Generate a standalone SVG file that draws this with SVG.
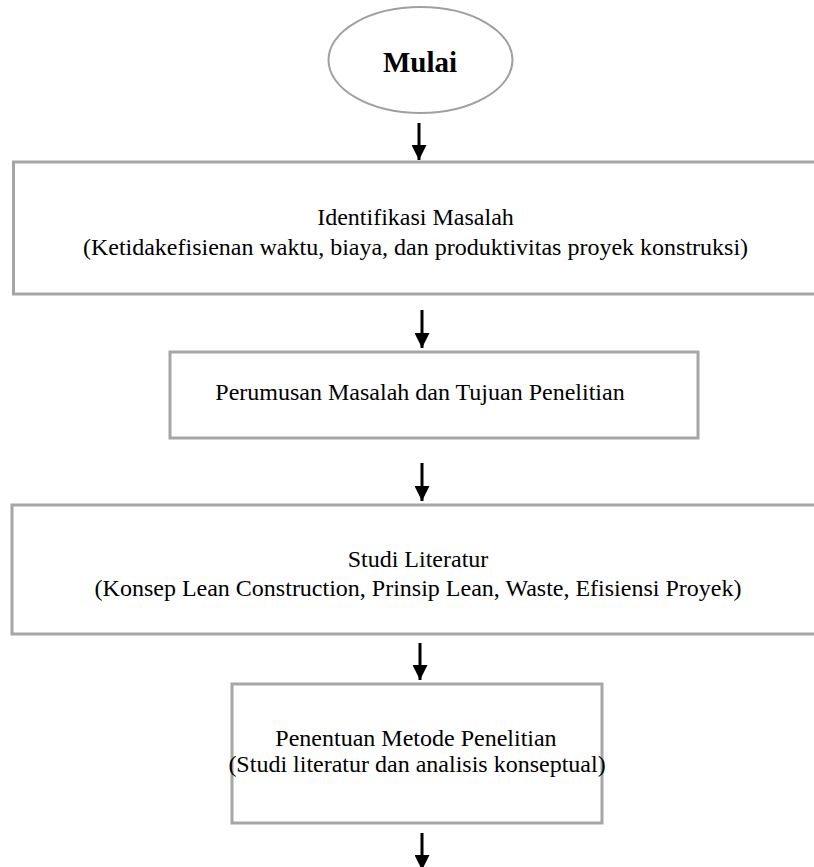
<svg xmlns="http://www.w3.org/2000/svg" width="814" height="867" viewBox="0 0 814 867">
<style>
.box{fill:#fff;stroke:#a6a6a6;stroke-width:3}
.t{font-family:"Liberation Serif","Times New Roman",serif;font-size:24px;fill:#000;text-anchor:middle}
.b{font-weight:bold;font-size:29px}
.ar{stroke:#000;stroke-width:3;fill:none}
</style>
<defs>
<marker id="ah" viewBox="0 0 10 10" refX="10" refY="5" markerWidth="5" markerHeight="5" markerUnits="strokeWidth" orient="auto">
<path d="M0,0 L10,5 L0,10 z" fill="#000"/>
</marker>
</defs>
<rect width="814" height="867" fill="#fff"/>
<g id="mulai">
<ellipse cx="420.5" cy="60" rx="92" ry="53" fill="#fff" stroke="#a0a0a0" stroke-width="2"/>
<text class="t b" x="420" y="72">Mulai</text>
</g>
<g id="identifikasi">
<rect class="box" x="13.5" y="162" width="810" height="132"/>
<text class="t" x="415.5" y="225">Identifikasi Masalah</text>
<text class="t" x="415.5" y="255">(Ketidakefisienan waktu, biaya, dan produktivitas proyek konstruksi)</text>
</g>
<g id="perumusan">
<rect class="box" x="170" y="352" width="528" height="86"/>
<text class="t" x="420" y="400">Perumusan Masalah dan Tujuan Penelitian</text>
</g>
<g id="studi">
<rect class="box" x="12" y="505" width="810" height="129"/>
<text class="t" x="418" y="567">Studi Literatur</text>
<text class="t" x="418" y="596">(Konsep Lean Construction, Prinsip Lean, Waste, Efisiensi Proyek)</text>
</g>
<g id="metode">
<rect class="box" x="232" y="684" width="370" height="139"/>
<text class="t" x="416" y="746">Penentuan Metode Penelitian</text>
<text class="t" x="417" y="772">(Studi literatur dan analisis konseptual)</text>
</g>
<g id="connectors">
<line class="ar" x1="419" y1="123" x2="419" y2="160" marker-end="url(#ah)"/>
<line class="ar" x1="422" y1="310" x2="422" y2="348" marker-end="url(#ah)"/>
<line class="ar" x1="422" y1="463" x2="422" y2="501" marker-end="url(#ah)"/>
<line class="ar" x1="420" y1="643" x2="420" y2="680" marker-end="url(#ah)"/>
<line class="ar" x1="422" y1="833" x2="422" y2="870" marker-end="url(#ah)"/>
</g>
</svg>
